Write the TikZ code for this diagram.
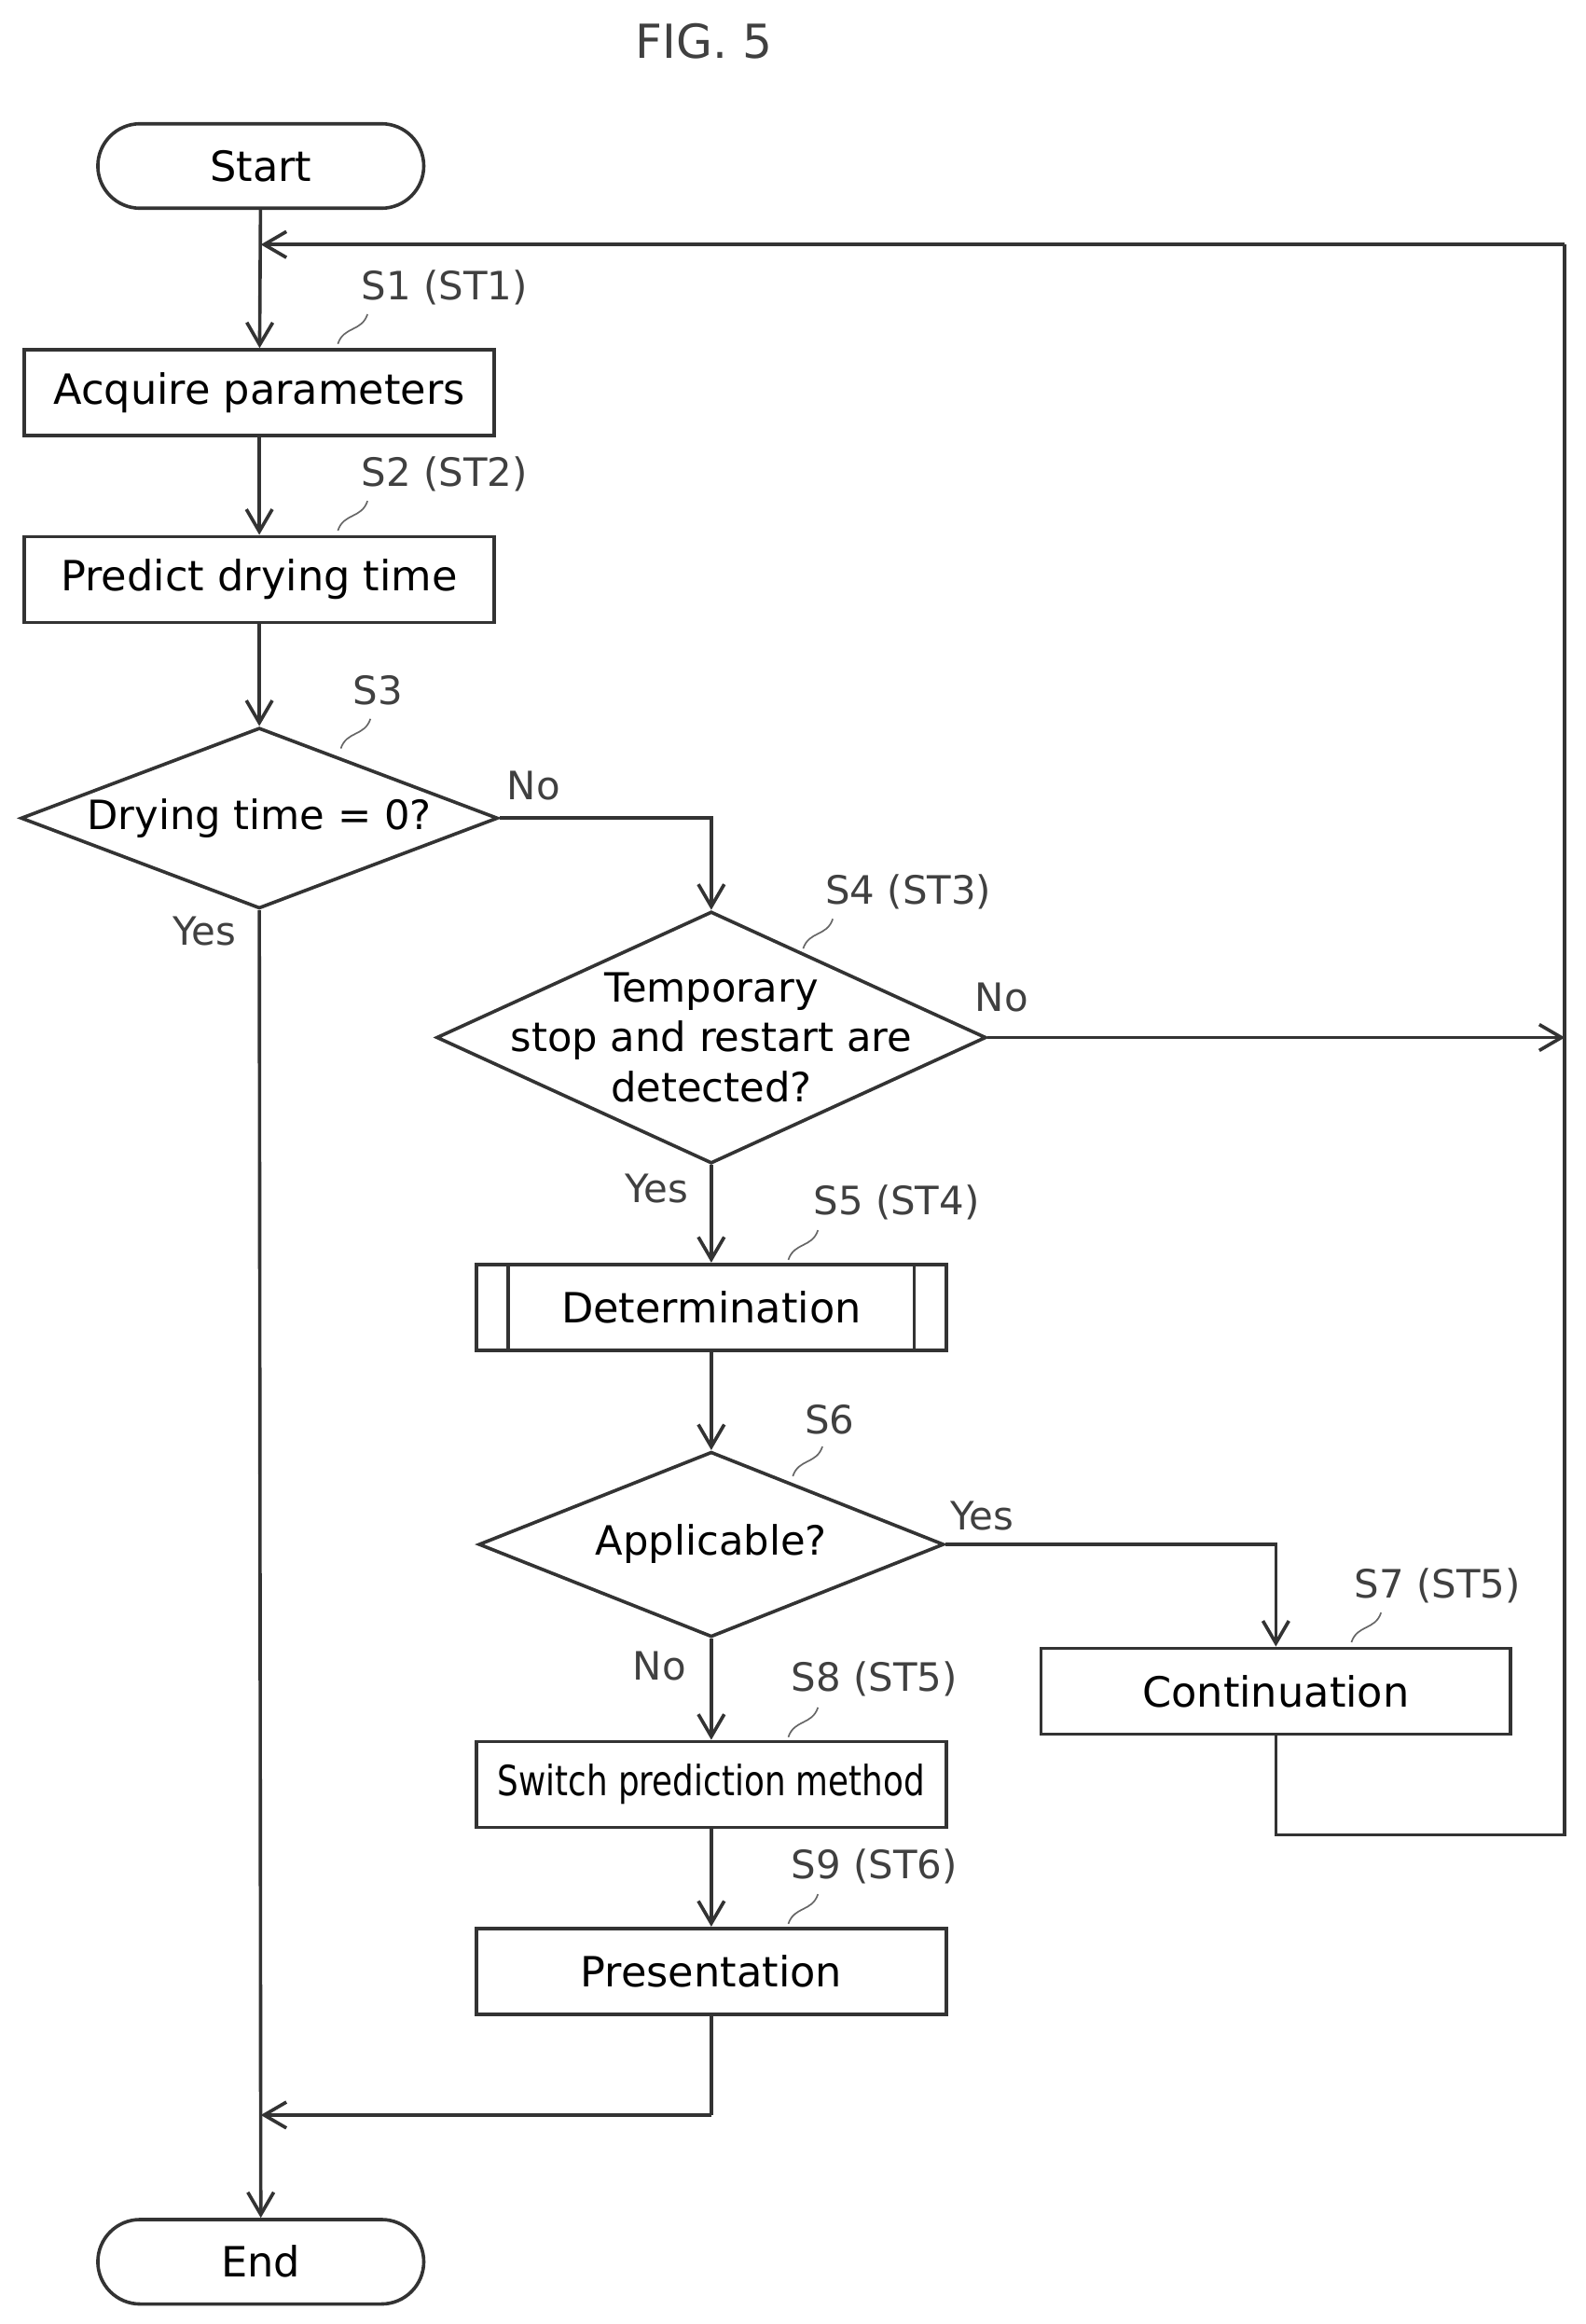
\documentclass[tikz,border=0pt]{standalone}
\usepackage{fontspec}
\setmainfont{DejaVu Sans}
\usetikzlibrary{shapes.geometric,shapes.misc,arrows.meta}
\begin{document}
\begin{tikzpicture}[x=0.02cm,y=-0.02cm,
  ln/.style={line width=1.3pt,draw=black!80},
  box/.style={ln,rectangle,minimum width=6.34cm,minimum height=1.16cm,inner sep=0,font=\fontsize{16}{19}\selectfont},
  term/.style={ln,rounded rectangle,minimum width=4.4cm,minimum height=1.14cm,inner sep=0,font=\fontsize{16}{19}\selectfont},
  dia/.style={ln,diamond,inner sep=0},
  txt/.style={font=\fontsize{15.5}{19}\selectfont,align=center},
  lab/.style={font=\fontsize{15}{17}\selectfont,text=black!75},
  lead/.style={line width=0.6pt,draw=black!60},
  arr/.style={ln,-{Straight Barb[length=3mm,width=3.5mm]}}]
\useasboundingbox (0,0) rectangle (1070,1568);
\node[font=\fontsize{18}{20}\selectfont,text=black!75] (title) at (475,28) {FIG. 5};
\node[term] (start) at (176,112) {Start};
\node[box] (s1) at (175,265) {Acquire parameters};
\node[box] (s2) at (175,391) {Predict drying time};
\node[dia,minimum width=6.44cm,minimum height=2.44cm,aspect=2.64] (s3) at (175,552) {};
\node[txt] at (s3) {Drying time = 0?};
\node[dia,minimum width=7.42cm,minimum height=3.4cm,aspect=2.18] (s4) at (480,700) {};
\node[txt] at (s4) {Temporary\\stop and restart are\\detected?};
\node[box] (s5) at (480,882) {Determination};
\draw[ln] (343,853) -- (343,911) (617,853) -- (617,911);
\node[dia,minimum width=6.28cm,minimum height=2.5cm,aspect=2.5] (s6) at (480,1042) {};
\node[txt] at (s6) {Applicable?};
\node[box] (s7) at (861,1141) {Continuation};
\node[box] (s8) at (480,1204) {\scalebox{0.8}[1]{Switch prediction method}};
\node[box] (s9) at (480,1330) {Presentation};
\node[term] (end) at (176,1526) {End};
\coordinate (loopTop) at (176,165);
\coordinate (loopR) at (1056,165);
\coordinate (loopB) at (1056,1238);
\coordinate (s7b) at (861,1238);
\coordinate (s4r) at (1056,700);
\coordinate (join) at (176,1427);
\coordinate (s9b) at (480,1427);
\draw[arr] (start) -- (s1);
\draw[arr] (s1) -- (s2);
\draw[arr] (s2) -- (s3);
\draw[arr] (s3.east) -| (s4.north);
\draw[arr] (s3.south) -- (end.north);
\draw[arr] (s4.east) -- (s4r);
\draw[arr] (s4.south) -- (s5.north);
\draw[arr] (s5.south) -- (s6.north);
\draw[arr] (s6.east) -| (s7.north);
\draw[arr] (s6.south) -- (s8.north);
\draw[arr] (s8.south) -- (s9.north);
\draw[ln] (s7.south) -- (s7b) -- (loopB) -- (loopR);
\draw[arr] (loopR) -- (loopTop);
\draw[ln] (s9.south) -- (s9b);
\draw[arr] (s9b) -- (join);
\foreach \x/\y/\t in {300/194/S1 (ST1),300/320/S2 (ST2),255/466/S3,613/602/S4 (ST3),605/811/S5 (ST4),560/958/S6,970/1070/S7 (ST5),590/1133/S8 (ST5),590/1259/S9 (ST6)}
  \node[lab] at (\x,\y) {\t};
\foreach \x/\y in {228/232,228/358,230/505,542/640,532/850,535/996,912/1108,532/1172,532/1298}
  \draw[lead] (\x,\y) .. controls +(4,-12) and +(-4,12) .. +(20,-20);
\node[lab] at (360,530) {No};
\node[lab] at (138,628) {Yes};
\node[lab] at (676,673) {No};
\node[lab] at (443,802) {Yes};
\node[lab] at (663,1023) {Yes};
\node[lab] at (445,1124) {No};
\end{tikzpicture}
\end{document}
